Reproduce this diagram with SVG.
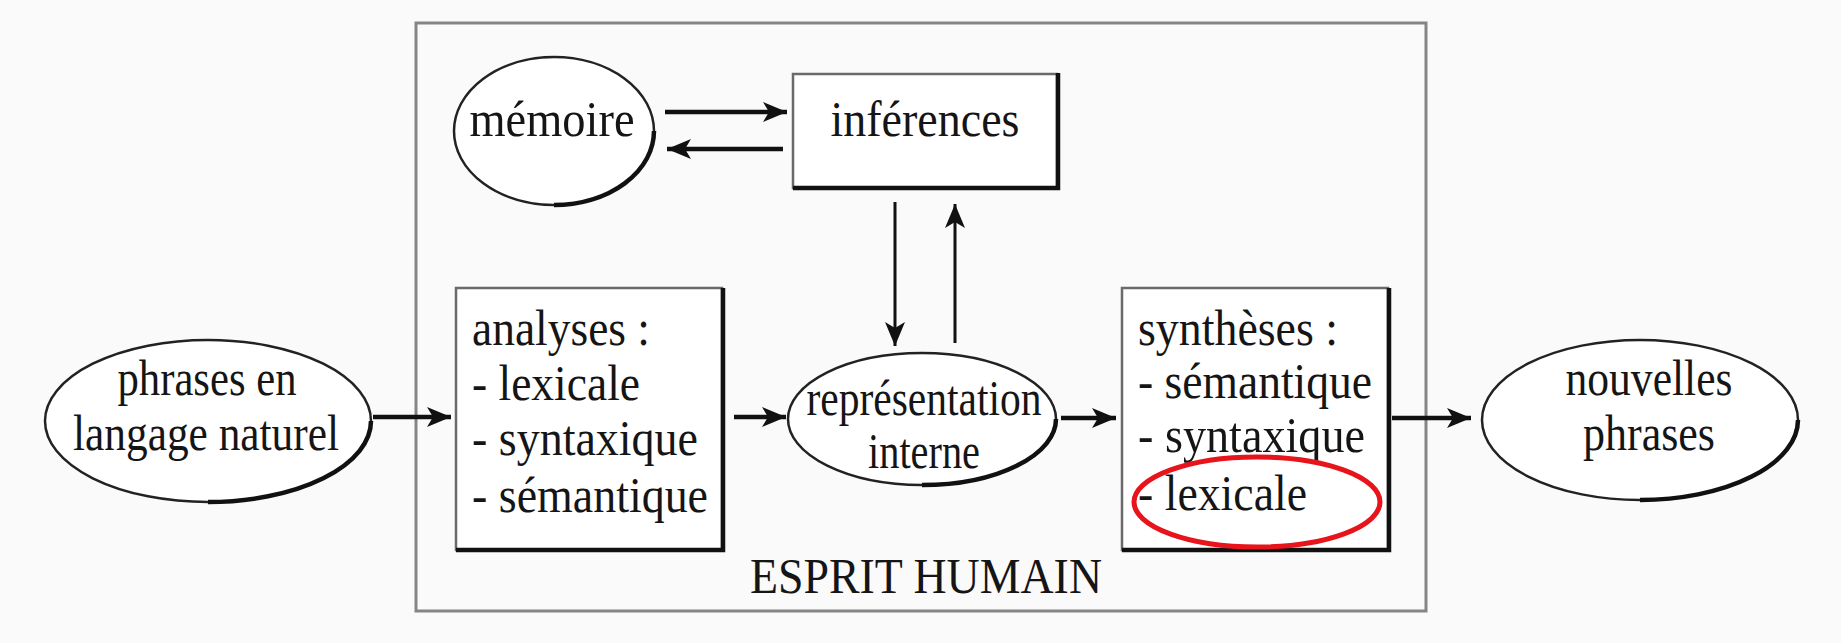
<svg xmlns="http://www.w3.org/2000/svg" width="1841" height="643" viewBox="0 0 1841 643">
<style>
text{font-family:"Liberation Serif","Times New Roman",serif;font-size:50px;fill:#151515}
.c{text-anchor:middle}
.node{fill:#fff;stroke:#222;stroke-width:2.5}
.shadow{fill:none;stroke:#111;stroke-width:4.5}
.box{fill:#fff;stroke:#6a6a6a;stroke-width:2.5}
.conn{stroke:#111;fill:none}
.thick{stroke-width:4.5}
.thin{stroke-width:3}
</style>
<defs>
<marker id="ah" markerUnits="userSpaceOnUse" markerWidth="26" markerHeight="22" refX="24" refY="11" orient="auto">
<path d="M0,1 L24,11 L0,21 L6,11 Z" fill="#111"/>
</marker>
</defs>
<rect x="0" y="0" width="1841" height="643" fill="#fafafa"/>

<g id="esprit-humain">
<rect x="416" y="23" width="1010" height="588" fill="#fafafa" stroke="#858585" stroke-width="3"/>
<text x="926" y="593" class="c" textLength="352" lengthAdjust="spacingAndGlyphs">ESPRIT HUMAIN</text>
</g>

<g id="memoire">
<ellipse cx="554" cy="131" rx="100" ry="74" class="node"/>
<path d="M654,131 A100,74 0 0 1 554,205" class="shadow"/>
<text x="552" y="136" class="c" textLength="165" lengthAdjust="spacingAndGlyphs">mémoire</text>
</g>

<g id="inferences">
<rect x="793" y="74" width="264" height="114" class="box"/>
<path d="M793,188 H1058 V73" class="shadow"/>
<text x="925" y="136" class="c" textLength="189" lengthAdjust="spacingAndGlyphs">inférences</text>
</g>

<g id="analyses">
<rect x="456" y="288" width="266" height="262" class="box"/>
<path d="M456,550 H723 V288" class="shadow"/>
<text x="472" y="345" textLength="178" lengthAdjust="spacingAndGlyphs">analyses :</text>
<text x="472" y="400" textLength="168" lengthAdjust="spacingAndGlyphs">- lexicale</text>
<text x="472" y="455" textLength="226" lengthAdjust="spacingAndGlyphs">- syntaxique</text>
<text x="472" y="512" textLength="236" lengthAdjust="spacingAndGlyphs">- sémantique</text>
</g>

<g id="representation">
<ellipse cx="922" cy="419" rx="134" ry="66" class="node"/>
<path d="M1056,419 A134,66 0 0 1 922,485" class="shadow"/>
<text x="924" y="415" class="c" textLength="235" lengthAdjust="spacingAndGlyphs">représentation</text>
<text x="924" y="468" class="c" textLength="112" lengthAdjust="spacingAndGlyphs">interne</text>
</g>

<g id="syntheses">
<rect x="1122" y="288" width="266" height="262" class="box"/>
<path d="M1122,550 H1389 V288" class="shadow"/>
<text x="1138" y="345" textLength="200" lengthAdjust="spacingAndGlyphs">synthèses :</text>
<text x="1138" y="398" textLength="234" lengthAdjust="spacingAndGlyphs">- sémantique</text>
<text x="1138" y="452" textLength="227" lengthAdjust="spacingAndGlyphs">- syntaxique</text>
<text x="1138" y="510" textLength="169" lengthAdjust="spacingAndGlyphs">- lexicale</text>
</g>

<g id="phrases-entree">
<ellipse cx="208" cy="421" rx="163" ry="81" class="node"/>
<path d="M371,421 A163,81 0 0 1 208,502" class="shadow"/>
<text x="207" y="395" class="c" textLength="179" lengthAdjust="spacingAndGlyphs">phrases en</text>
<text x="206" y="450" class="c" textLength="266" lengthAdjust="spacingAndGlyphs">langage naturel</text>
</g>

<g id="nouvelles-phrases">
<ellipse cx="1640" cy="420" rx="158" ry="80" class="node"/>
<path d="M1798,420 A158,80 0 0 1 1640,500" class="shadow"/>
<text x="1649" y="395" class="c" textLength="167" lengthAdjust="spacingAndGlyphs">nouvelles</text>
<text x="1649" y="450" class="c" textLength="132" lengthAdjust="spacingAndGlyphs">phrases</text>
</g>

<g id="highlight">
<ellipse cx="1257" cy="502" rx="123" ry="45" fill="none" stroke="#e8141c" stroke-width="5"/>
</g>

<g id="connectors">
<line x1="665" y1="112" x2="787" y2="112" class="conn thick" marker-end="url(#ah)"/>
<line x1="783" y1="149" x2="667" y2="149" class="conn thick" marker-end="url(#ah)"/>
<line x1="895" y1="202" x2="895" y2="346" class="conn thin" marker-end="url(#ah)"/>
<line x1="955" y1="343" x2="955" y2="204" class="conn thin" marker-end="url(#ah)"/>
<line x1="373" y1="417" x2="451" y2="417" class="conn thick" marker-end="url(#ah)"/>
<line x1="734" y1="417" x2="786" y2="417" class="conn thick" marker-end="url(#ah)"/>
<line x1="1061" y1="418" x2="1116" y2="418" class="conn thick" marker-end="url(#ah)"/>
<line x1="1392" y1="418" x2="1471" y2="418" class="conn thick" marker-end="url(#ah)"/>
</g>
</svg>
